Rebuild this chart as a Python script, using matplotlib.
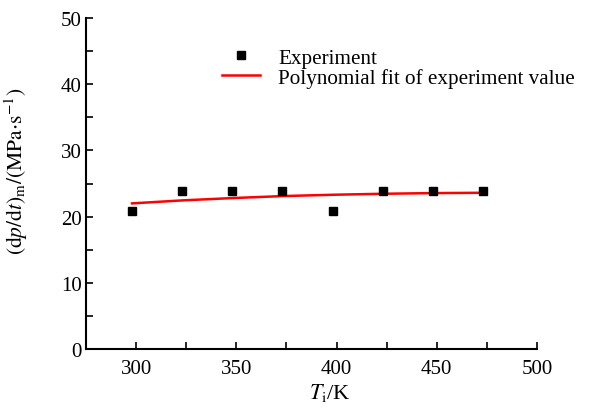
import matplotlib
matplotlib.use("Agg")
import matplotlib.pyplot as plt

plt.rcParams['font.family'] = ['Liberation Serif', 'DejaVu Serif']
plt.rcParams['mathtext.fontset'] = 'stix'

temps = [298, 323, 348, 373, 398, 423, 448, 473]
rate = [20.8, 23.8, 23.8, 23.8, 20.8, 23.8, 23.8, 23.8]
fit_vals = [22.0, 22.45, 22.8, 23.1, 23.3, 23.45, 23.55, 23.6]

fig = plt.figure(figsize=(5.93, 4.10), dpi=100)
ax = fig.add_axes([0.145, 0.146, 0.7606, 0.808])

ax.plot(temps, rate, 's', color='black', markersize=5.5, label='Experiment', zorder=3)
ax.plot(temps, fit_vals, '-', color='#ff0000', linewidth=1.8, label='Polynomial fit of experiment value')

ax.set_xlim(275, 500)
ax.set_ylim(0, 50)
ax.set_xticks([300, 350, 400, 450, 500])
ax.set_xticks([325, 375, 425, 475], minor=True)
ax.set_yticks([0, 10, 20, 30, 40, 50])
ax.set_yticks([5, 15, 25, 35, 45], minor=True)
ax.tick_params(which='both', direction='in', length=5, width=1.2, labelsize=15)
ax.tick_params(axis='x', pad=7)
ax.tick_params(axis='y', pad=3)

for s in ['top', 'right']:
    ax.spines[s].set_visible(False)
for s in ['left', 'bottom']:
    ax.spines[s].set_linewidth(1.5)

ax.set_xlabel(r'$T_\mathrm{i}$/K', fontsize=16)
ax.xaxis.set_label_coords(0.541, -0.095)
ax.set_ylabel(r'$(\mathrm{d}p/\mathrm{d}t)_\mathrm{m}/(\mathrm{MPa{\cdot}s^{-1}})$', fontsize=15.5)
ax.yaxis.set_label_coords(-0.125, 0.54)

ax.legend(loc='upper left', bbox_to_anchor=(0.283, 0.935), frameon=False, fontsize=15.2,
          handlelength=1.8, handletextpad=0.85, labelspacing=0.0, borderaxespad=0)

fig.savefig('out.png', dpi=100)
